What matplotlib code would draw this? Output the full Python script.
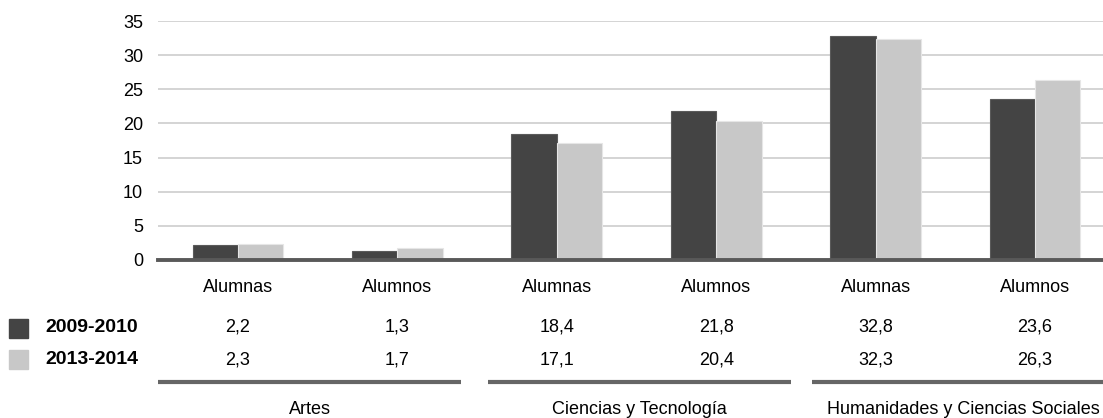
import numpy as np
import matplotlib
matplotlib.use("Agg")
import matplotlib.pyplot as plt
import matplotlib.transforms as mtransforms
from matplotlib.patches import Rectangle

# data
categorias = ["Alumnas", "Alumnos", "Alumnas", "Alumnos", "Alumnas", "Alumnos"]
grupos = ["Artes", "Ciencias y Tecnología", "Humanidades y Ciencias Sociales"]
series = ["2009-2010", "2013-2014"]
v2009 = [2.2, 1.3, 18.4, 21.8, 32.8, 23.6]
v2013 = [2.3, 1.7, 17.1, 20.4, 32.3, 26.3]
etiquetas_2009 = ["2,2", "1,3", "18,4", "21,8", "32,8", "23,6"]
etiquetas_2013 = ["2,3", "1,7", "17,1", "20,4", "32,3", "26,3"]
yticks = [0, 5, 10, 15, 20, 25, 30, 35]

plt.rcParams['font.family'] = ['Liberation Sans', 'DejaVu Sans']

colores = ["#444444", "#c8c8c8"]
W, H = 1103, 418
fig = plt.figure(figsize=(W / 100, H / 100), dpi=100)
ax = fig.add_axes([158.3 / W, (H - 260) / H, 6 * 159.4 / W, 239 / H])

x = np.arange(len(categorias))
bw = 0.285
ax.bar(x - bw / 2, v2009, bw, color=colores[0], edgecolor="#5a5a5a", linewidth=0.8, zorder=2)
ax.bar(x + bw / 2, v2013, bw, color=colores[1], edgecolor="#e6e6e6", linewidth=0.8, zorder=2)

ax.set_xlim(-0.5, len(categorias) - 0.5)
ax.set_ylim(0, 35)
ax.set_yticks(yticks)
ax.set_yticklabels([str(t) for t in yticks], fontsize=13)
ax.tick_params(axis="y", length=0, pad=11)
ax.set_xticks([])
for s in ax.spines.values():
    s.set_visible(False)
ax.grid(axis="y", color="#d4d4d4", linewidth=1.4, zorder=0)
ax.axhline(0, color="#595959", linewidth=2.8, zorder=3, clip_on=False)

tr = mtransforms.blended_transform_factory(ax.transData, fig.transFigure)
fy = lambda py: 1 - py / H

for i, c in enumerate(categorias):
    ax.text(i, fy(287), c, transform=tr, ha="center", va="center", fontsize=13)
    ax.text(i, fy(327), etiquetas_2009[i], transform=tr, ha="center", va="center", fontsize=13)
    ax.text(i, fy(360), etiquetas_2013[i], transform=tr, ha="center", va="center", fontsize=13)

# separadores de grupo un poco desplazados como en el original
ajuste = [-0.05, 0.02, 0.05]
for g, nombre in enumerate(grupos):
    centro = 2 * g + 0.5 + ajuste[g]
    ax.plot([centro - 0.95, centro + 0.95], [fy(382), fy(382)], transform=tr,
            color="#666666", linewidth=3, clip_on=False, solid_capstyle="butt")
    ax.text(centro, fy(409), nombre, transform=tr, ha="center", va="center", fontsize=13)

for k, (nombre, col) in enumerate(zip(series, colores)):
    yc = [328.5, 359.5][k]
    fig.patches.append(Rectangle((9 / W, fy(yc + 9.5)), 19 / W, 19 / H,
                                 transform=fig.transFigure, color=col))
    fig.text(45 / W, fy([327, 360][k]), nombre, ha="left", va="center",
             fontsize=14, fontweight="bold")

fig.savefig("out.png", dpi=100)
